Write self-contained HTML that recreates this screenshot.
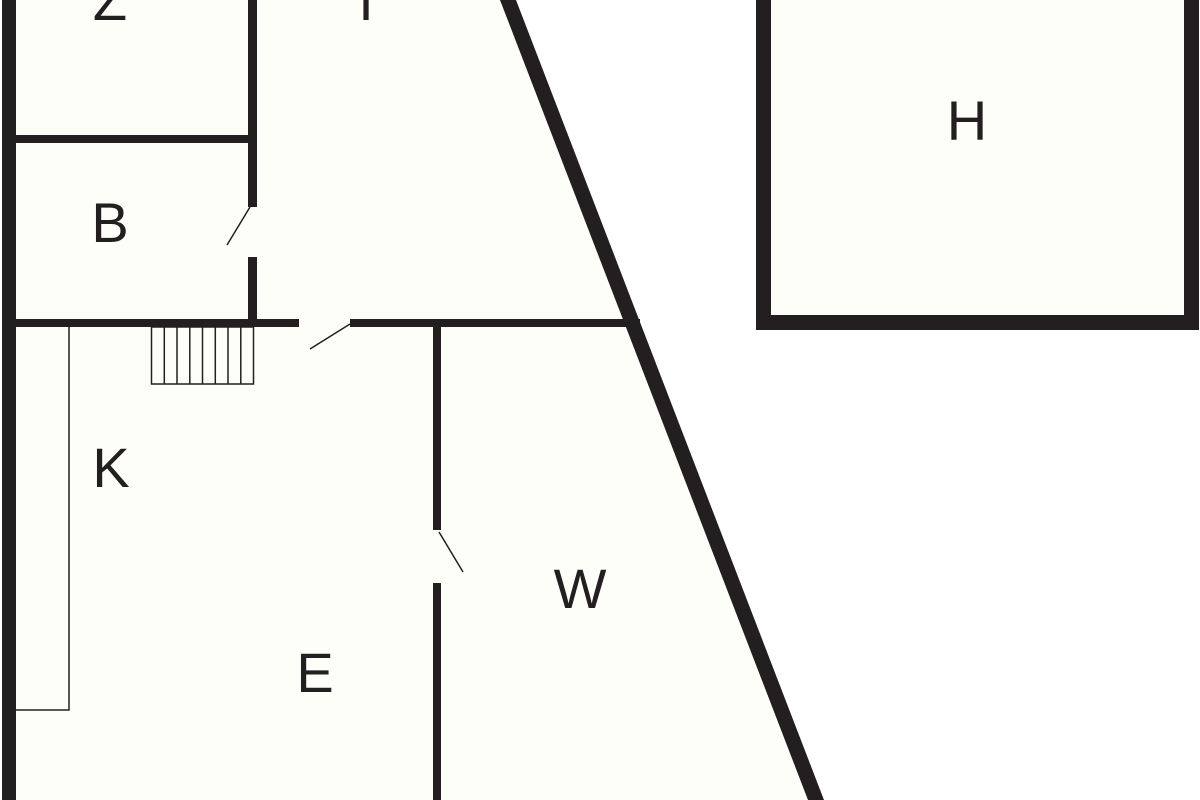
<!DOCTYPE html>
<html><head><style>html,body{margin:0;padding:0;background:#fff}svg{display:block}</style></head>
<body>
<svg width="1200" height="800" viewBox="0 0 1200 800" xmlns="http://www.w3.org/2000/svg">
<rect width="1200" height="800" fill="#fff"/>
<polygon points="3,0 507,0 817,800 3,800" fill="#fdfef8"/>
<rect x="756" y="-20" width="443" height="350" fill="#fdfef8"/>
<g fill="#231f20">
<rect x="2" y="0" width="14" height="800"/>
<rect x="248" y="0" width="9" height="207"/>
<rect x="248" y="257" width="9" height="70"/>
<rect x="14" y="135" width="240" height="8"/>
<rect x="14" y="319" width="285" height="8"/>
<rect x="350" y="319" width="290" height="8"/>
<rect x="433" y="323" width="8" height="207"/>
<rect x="433" y="583" width="8" height="217"/>
<polygon points="500,0 516,0 824,800 808,800"/>
<path d="M756,-20 H1199 V330 H756 Z M771,-20 V315 H1184 V-20 Z" fill-rule="evenodd"/>
</g>
<g stroke="#231f20" fill="none">
<line x1="250" y1="207" x2="227" y2="245" stroke-width="1.5"/>
<line x1="350" y1="324" x2="310" y2="349" stroke-width="1.5"/>
<line x1="439" y1="532" x2="463" y2="572" stroke-width="1.5"/>
<polyline points="69,327 69,710 14,710" stroke-width="1.5"/>
<rect x="151.5" y="327" width="102" height="57" stroke-width="1.5"/>
<path d="M164.3,327V384M177,327V384M189.8,327V384M202.5,327V384M215.3,327V384M228,327V384M240.8,327V384" stroke-width="1.5"/>
</g>
<g font-family="Liberation Sans, sans-serif" font-size="56" fill="#231f20" text-anchor="middle">
<text x="110" y="20">Z</text>
<text x="366" y="20">I</text>
<text x="967" y="140">H</text>
<text x="110" y="242">B</text>
<text x="111" y="487">K</text>
<text x="580" y="608">W</text>
<text x="315" y="692">E</text>
</g>
</svg>
</body></html>
